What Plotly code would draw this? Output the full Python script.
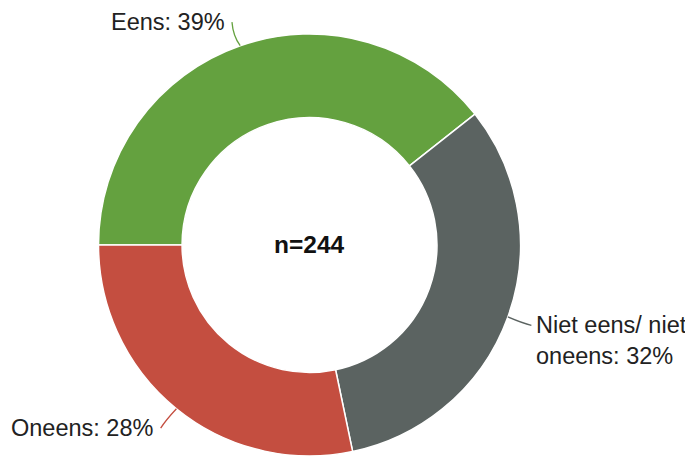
import math
import plotly.graph_objects as go

labels = ["Eens", "Niet eens/ niet<br>oneens", "Oneens"]
counts = [96, 79, 69]
colors = ["#64A13F", "#5B6361", "#C44E40"]
n_total = 244

OFF = 8  # default page body margin
W, H = 693 - OFF, 456 - OFF
# pie geometry in figure pixels
r_px = 211.0
cx_px = 309.5 - OFF
dom_x = [(cx_px - r_px) / W, (cx_px + r_px) / W]
dom_y = [0.0, 2 * r_px / H]
cy_px = H - (dom_y[0] + dom_y[1]) / 2 * H  # top-based

fig = go.Figure()
fig.add_trace(go.Pie(
    labels=labels, values=counts, sort=False, direction="clockwise",
    rotation=270, hole=0.604, textinfo="none",
    marker=dict(colors=colors, line=dict(color="white", width=1.5)),
    domain=dict(x=dom_x, y=dom_y), showlegend=False,
))

def px2paper(x, y):
    return x / W, 1 - y / H

total = sum(counts)
start = 270.0
shapes, annos = [], []
font = dict(family="Liberation Sans, Arial, sans-serif", size=23.5, color="#222222")
for lab, c in zip(labels, counts):
    span = c / total * 360
    mid = math.radians(start + span / 2)
    start += span
    dx, dy = math.sin(mid), -math.cos(mid)
    P = (cx_px + r_px * dx, cy_px + r_px * dy)
    L = 25
    E = (cx_px + (r_px + L) * dx, cy_px + (r_px + L) * dy)
    side = 1 if dx > 0 else -1
    C = ((P[0] + E[0]) / 2 + side * 3, (P[1] + E[1]) / 2 + 2)
    p0, c0, e0 = px2paper(*P), px2paper(*C), px2paper(*E)
    shapes.append(dict(type="path", xref="paper", yref="paper",
                       path=f"M {p0[0]},{p0[1]} Q {c0[0]},{c0[1]} {e0[0]},{e0[1]}",
                       line=dict(color=colors[labels.index(lab)], width=1.3)))
    pct = round(c / n_total * 100)
    txt = f"{lab}: {pct}%"
    if side > 0:
        tx, ty = px2paper(E[0] + 3, E[1] - 15)
        annos.append(dict(x=tx, y=ty, xref="paper", yref="paper", text=txt,
                          showarrow=False, xanchor="left", yanchor="top",
                          align="left", font=font))
    else:
        tx, ty = px2paper(E[0] - 5, E[1])
        annos.append(dict(x=tx, y=ty, xref="paper", yref="paper", text=txt,
                          showarrow=False, xanchor="right", yanchor="middle",
                          align="right", font=font))

ccx, ccy = px2paper(cx_px, cy_px)
annos.append(dict(x=ccx, y=ccy, xref="paper", yref="paper", text=f"<b>n={n_total}</b>",
                  showarrow=False, xanchor="center", yanchor="middle",
                  font=dict(family="Liberation Sans, Arial, sans-serif", size=24.5, color="#111111")))

fig.update_layout(width=W, height=H, margin=dict(l=0, r=0, t=0, b=0),
                  paper_bgcolor="white", plot_bgcolor="white",
                  shapes=shapes, annotations=annos)
fig.write_html("out.html")
